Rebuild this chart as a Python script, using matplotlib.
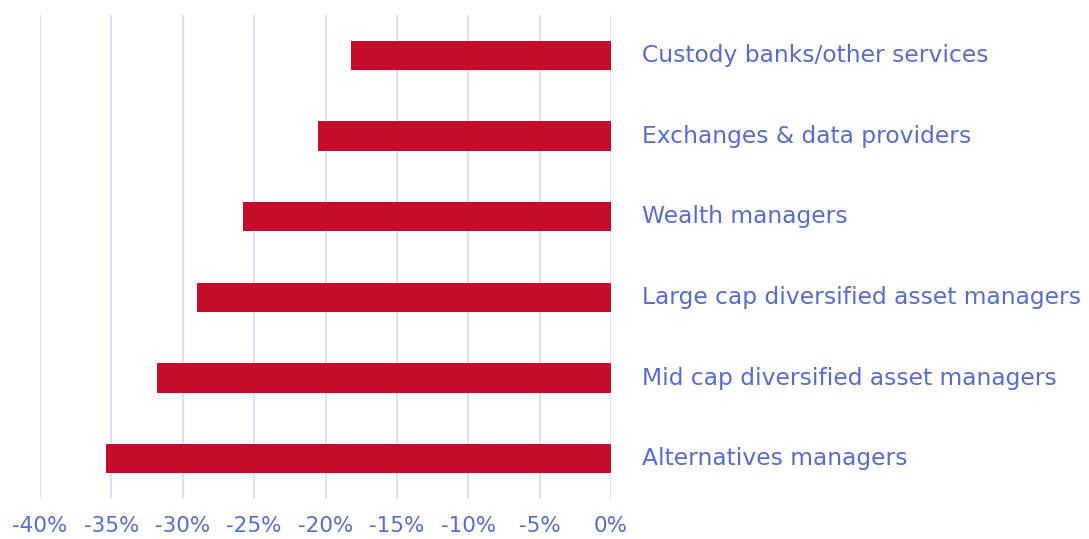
import matplotlib
matplotlib.use("Agg")
from matplotlib import pyplot as plt

categories = [
    "Custody banks/other services",
    "Exchanges & data providers",
    "Wealth managers",
    "Large cap diversified asset managers",
    "Mid cap diversified asset managers",
    "Alternatives managers",
]
values = [-18.2, -20.5, -25.8, -29.0, -31.8, -35.4]
ticks = [-40, -35, -30, -25, -20, -15, -10, -5, 0]
tick_labels = [f"{t}%" for t in ticks]

bar_color = "#C60C2C"
text_color = "#5A6CC6"
grid_color = "#D8DFF4"

plt.rcParams["font.family"] = ["DejaVu Sans"]

fig = plt.figure(figsize=(10.89, 5.39), dpi=100)
ax = fig.add_axes([40 / 1089, 1 - 499 / 539, 571 / 1089, 484 / 539])

ypos = list(range(len(categories)))
ax.barh(ypos, values, height=0.36, color=bar_color, zorder=3)

ax.set_xlim(-40, 0)
ax.set_ylim(len(categories) - 0.5, -0.5)
ax.set_xticks(ticks)
ax.set_xticklabels(tick_labels)
ax.set_yticks([])
ax.tick_params(axis="x", length=0, pad=12, labelsize=15.5, labelcolor=text_color)
ax.grid(axis="x", color=grid_color, linewidth=1.3, zorder=0)
for s in ax.spines.values():
    s.set_visible(False)

for y, name in zip(ypos, categories):
    ax.annotate(name, xy=(0, y), xytext=(22, 0), textcoords="offset points",
                ha="left", va="center", fontsize=16.8, color=text_color,
                annotation_clip=False)

fig.savefig("out.png", dpi=100)
plt.close()
